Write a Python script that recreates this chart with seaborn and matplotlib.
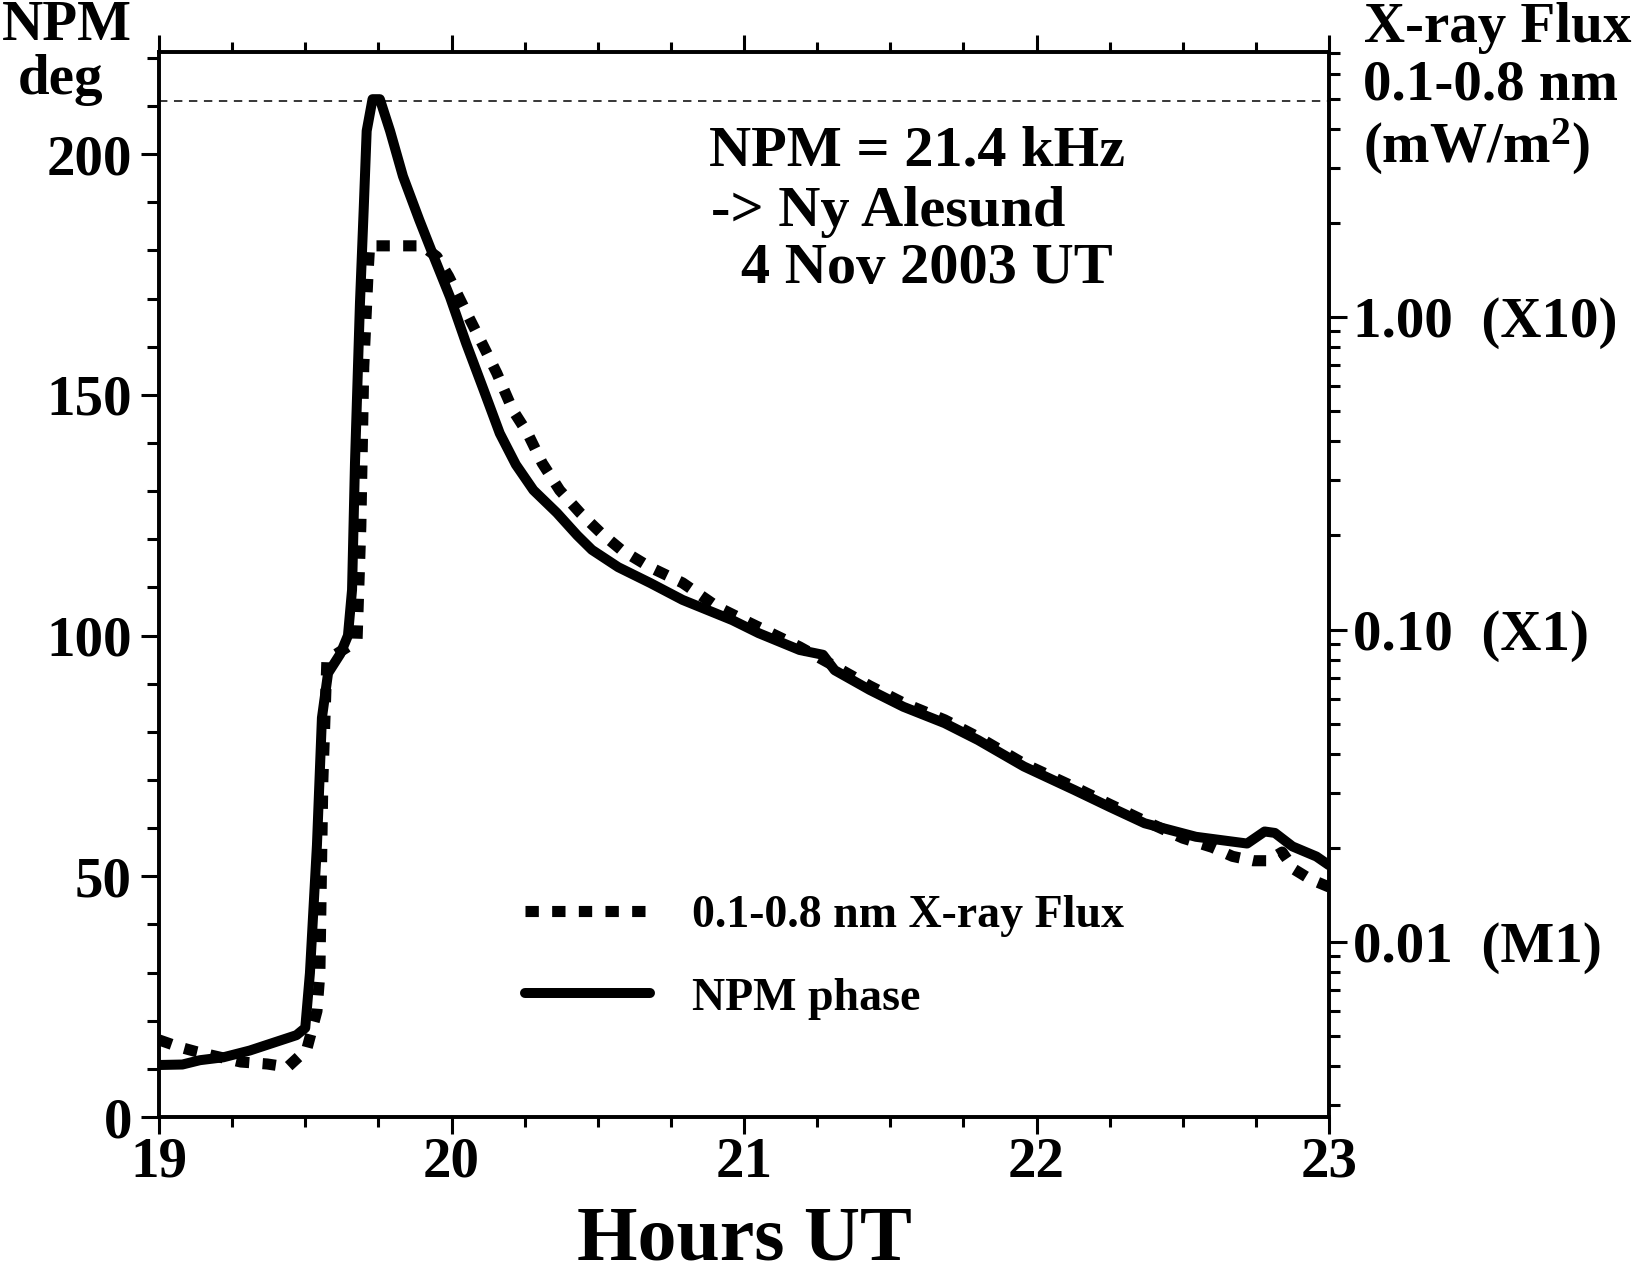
import numpy as np
import pandas as pd
import matplotlib
matplotlib.use("Agg")
import matplotlib.pyplot as plt
from matplotlib.ticker import MultipleLocator, LogLocator, NullFormatter, FixedLocator
import seaborn as sns

# ---------------- data ----------------
npm_hours = [19.00, 19.08, 19.14, 19.22, 19.31, 19.37, 19.43, 19.47, 19.50, 19.516,
             19.54, 19.557, 19.578, 19.62, 19.646, 19.66, 19.67, 19.687, 19.70, 19.71,
             19.73, 19.755, 19.79, 19.834, 19.89, 19.94, 19.995, 20.05, 20.11, 20.165,
             20.22, 20.28, 20.36, 20.43, 20.48, 20.57, 20.68, 20.79, 20.96, 21.05,
             21.19, 21.27, 21.31, 21.43, 21.545, 21.686, 21.80, 21.957, 22.13, 22.25,
             22.37, 22.545, 22.72, 22.78, 22.815, 22.875, 22.957, 23.00]
npm_phase = [10.8, 10.9, 11.8, 12.4, 13.8, 15.0, 16.2, 17.0, 18.5, 29.9,
             56.5, 82.9, 92.2, 96.2, 100.0, 109.5, 135.8, 169.0, 188.8, 204.8,
             211.4, 211.4, 204.8, 195.4, 186.3, 178.6, 170.3, 160.7, 151.0, 142.0,
             135.5, 130.2, 125.5, 120.8, 117.8, 114.2, 110.9, 107.4, 103.2, 100.5,
             97.0, 96.0, 92.8, 88.7, 85.2, 81.8, 78.3, 72.8, 67.9, 64.4,
             61.0, 58.2, 56.8, 59.3, 59.0, 56.2, 54.1, 52.3]

xray_hours = [19.00, 19.07, 19.13, 19.28, 19.37, 19.44, 19.505, 19.54, 19.55, 19.56,
              19.574, 19.677, 19.69, 19.70, 19.715, 19.72, 19.90, 19.95, 19.99, 20.06,
              20.11, 20.155, 20.21, 20.26, 20.31, 20.37, 20.44, 20.51, 20.58, 20.68,
              20.79, 20.91, 21.02, 21.19, 21.31, 21.43, 21.545, 21.686, 21.80, 21.957,
              22.13, 22.25, 22.37, 22.50, 22.60, 22.67, 22.74, 22.79, 22.84, 22.88,
              22.935, 23.00]
xray_flux = [0.00486, 0.00461, 0.00445, 0.00413, 0.00407, 0.00398, 0.00453, 0.00601, 0.00796, 0.0325,
             0.0798, 0.0920, 0.214, 0.693, 1.40, 1.69, 1.69, 1.56, 1.35, 0.995,
             0.804, 0.661, 0.503, 0.425, 0.341, 0.279, 0.236, 0.204, 0.180, 0.158,
             0.141, 0.118, 0.105, 0.0880, 0.0763, 0.0660, 0.0582, 0.0514, 0.0453, 0.0372,
             0.0313, 0.0276, 0.0244, 0.0215, 0.0201, 0.0188, 0.0182, 0.0182, 0.0194, 0.0171,
             0.0159, 0.0150]

peak_level = 211.0

left_ticks = [0, 50, 100, 150, 200]
right_ticks = [0.01, 0.1, 1.0]
right_ticklabels = ["0.01  (M1)", "0.10  (X1)", "1.00  (X10)"]
x_ticks = [19, 20, 21, 22, 23]

npm_df = pd.DataFrame({"hour": npm_hours, "phase": npm_phase})
xray_df = pd.DataFrame({"hour": xray_hours, "flux": xray_flux})

# ---------------- style ----------------
sns.set_theme(style="ticks")
plt.rcParams["font.family"] = ["Liberation Serif", "DejaVu Serif"]
plt.rcParams["font.weight"] = "bold"
plt.rcParams["axes.linewidth"] = 2.6
plt.rcParams["mathtext.fontset"] = "custom"
plt.rcParams["mathtext.rm"] = "Liberation Serif:bold"
plt.rcParams["mathtext.bf"] = "Liberation Serif:bold"
plt.rcParams["mathtext.it"] = "Liberation Serif:bold"
for k in ["text.color", "axes.labelcolor", "xtick.color", "ytick.color", "axes.edgecolor"]:
    plt.rcParams[k] = "black"

W, H = 1632, 1278
fig = plt.figure(figsize=(W / 100, H / 100), dpi=100)
L, R, T, B = 159, 1329, 52, 1117
ax = fig.add_axes([L / W, 1 - B / H, (R - L) / W, (B - T) / H])
ax2 = ax.twinx()

# ---------------- lines ----------------
sns.lineplot(data=npm_df, x="hour", y="phase", ax=ax, color="black", lw=7.2,
             label="NPM phase", sort=False, solid_joinstyle="round", solid_capstyle="round")
sns.lineplot(data=xray_df, x="hour", y="flux", ax=ax2, color="black", lw=8,
             linestyle=(0, (1.2, 1.2)), label="0.1-0.8 nm X-ray Flux", sort=False)
ax.axhline(peak_level, color="black", lw=1.1, linestyle=(0, (5.5, 4.3)))

for a in (ax, ax2):
    lg = a.get_legend()
    if lg is not None:
        lg.remove()

# ---------------- axes ----------------
ax.set_xlim(19, 23)
ax.set_ylim(0, 221.2)
ax2.set_yscale("log")
ax2.set_ylim(0.002754, 7.05)

ax.set_xticks(x_ticks)
ax.set_xticklabels([str(v) for v in x_ticks])
ax.xaxis.set_minor_locator(MultipleLocator(0.25))
ax.set_yticks(left_ticks)
ax.set_yticklabels([str(v) for v in left_ticks])
ax.yaxis.set_minor_locator(MultipleLocator(10))

ax2.yaxis.set_major_locator(FixedLocator(right_ticks))
ax2.set_yticklabels(right_ticklabels)
ax2.yaxis.set_minor_locator(LogLocator(base=10, subs=np.arange(2, 10)))
ax2.yaxis.set_minor_formatter(NullFormatter())

fs = 41
ax.tick_params(axis="x", which="major", direction="out", length=12.2, width=2.2,
               top=True, labelsize=fs, pad=2, colors="black")
ax.tick_params(axis="x", which="minor", direction="out", length=7, width=2.2, top=True,
               colors="black")
ax.tick_params(axis="y", which="major", direction="out", length=13, width=2.2,
               labelsize=fs, pad=6.5, right=False, colors="black")
ax.tick_params(axis="y", which="minor", direction="out", length=8.6, width=2.2, right=False,
               colors="black")
ax2.tick_params(axis="y", which="major", direction="out", length=13, width=2.2,
                labelsize=fs, pad=4.3, colors="black")
ax2.tick_params(axis="y", which="minor", direction="out", length=8, width=2.2, colors="black")
for lab in ax.get_xticklabels() + ax.get_yticklabels() + ax2.get_yticklabels():
    lab.set_fontweight("bold")

for s in list(ax.spines.values()) + list(ax2.spines.values()):
    s.set_linewidth(2.6)
    s.set_edgecolor("black")

ax.set_xlabel("Hours UT", fontsize=56, fontweight="bold", color="black")
ax.xaxis.label.set_va("baseline")
ax.xaxis.set_label_coords(0.5, -(1260 - B) / (B - T))
ax.set_ylabel("")
ax2.set_ylabel("")

# ---------------- texts ----------------
def ftext(x, y, s, size=fs, **kw):
    fig.text(x / W, 1 - y / H, s, va="baseline", fontweight="bold", fontsize=size,
             color="black", **kw)

ftext(67, 40, "NPM", ha="center")
ftext(61, 94, "deg", ha="center")
ftext(1364, 42, "X-ray Flux", ha="left")
ftext(1363, 100, "0.1-0.8 nm", ha="left")
ftext(1363, 163, "(mW/m$^{2}$)", ha="left")
ftext(709, 166, "NPM = 21.4 kHz", size=42, ha="left")
ftext(711, 226, "-> Ny Alesund", size=42, ha="left")
ftext(741, 283, "4 Nov 2003 UT", size=42, ha="left")

# ---------------- legend ----------------
h_npm = ax.get_lines()[0]
h_x = ax2.get_lines()[0]
leg = ax2.legend([h_x, h_npm], ["0.1-0.8 nm X-ray Flux", "NPM phase"],
                 loc="upper left", bbox_to_anchor=(525 / W, 1 - 895 / H),
                 bbox_transform=fig.transFigure, frameon=False,
                 prop={"family": "Liberation Serif", "weight": "bold", "size": 33},
                 handlelength=2.73, handletextpad=0.92, labelspacing=0.88,
                 borderpad=0, borderaxespad=0)
for t in leg.get_texts():
    t.set_color("black")

fig.savefig("out.png", dpi=100)
